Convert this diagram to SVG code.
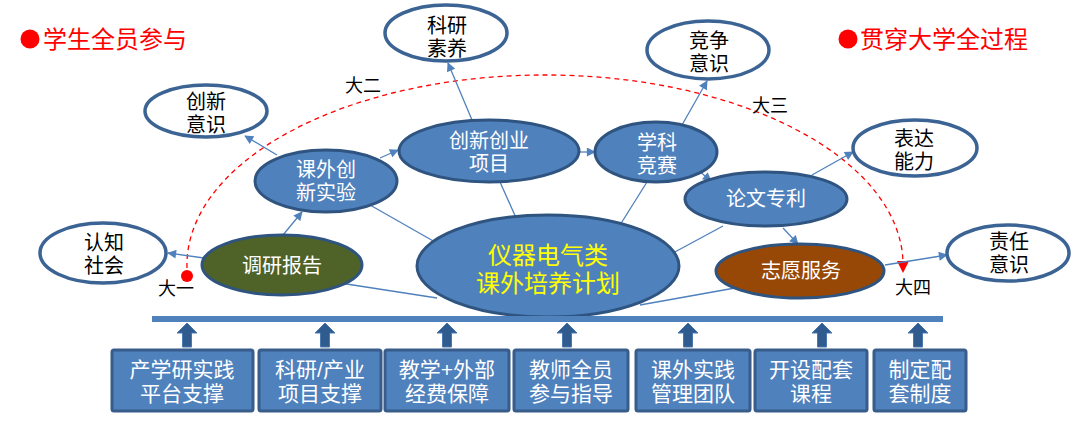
<svg xmlns="http://www.w3.org/2000/svg" width="1080" height="425" viewBox="0 0 1080 425">
<style>
text{font-family:"Liberation Sans","Noto Sans CJK SC",sans-serif;text-anchor:middle}
.out{fill:#fff;stroke:#3b6394;stroke-width:3.5}
.act{fill:#4f81bd;stroke:#2f5480;stroke-width:3}
.tb{font-size:20px;fill:#000}
.tw{font-size:20px;fill:#fff}
.ty{font-size:24px;fill:#ffff00}
.box{fill:#4f81bd;stroke:#385d8a;stroke-width:3}
.tbox{font-size:21px;fill:#fff}
.red{font-size:24px;fill:#ff0000;text-anchor:start}
.yr{font-size:18px;fill:#000;text-anchor:start}
.ln{stroke:#4f81bd;stroke-width:1.3;fill:none}
.blk{fill:#2f5b8f;stroke:#4a78b0;stroke-width:1}
</style>
<defs>
<marker id="ah" viewBox="0 0 10 10" refX="9" refY="5" markerWidth="10" markerHeight="9" markerUnits="userSpaceOnUse" orient="auto">
<path d="M0,0 L10,5 L0,10 z" fill="#4f81bd"/>
</marker>
</defs>
<rect width="1080" height="425" fill="#fff"/>

<g id="titles">
<circle cx="30" cy="39" r="9.5" fill="#ff0000"/>
<text class="red" x="43" y="48">学生全员参与</text>
<circle cx="848" cy="39" r="9.5" fill="#ff0000"/>
<text class="red" x="860" y="48">贯穿大学全过程</text>
</g>

<g id="timeline">
<path d="M187,268 A358,190 0 0 1 903,262" fill="none" stroke="#ff0000" stroke-width="1.3" stroke-dasharray="5,4"/>
<polygon points="897,261 909,261 903,273" fill="#ff0000"/>
<circle cx="187" cy="276" r="6" fill="#ff0000"/>
<text class="yr" x="158" y="295">大一</text>
<text class="yr" x="345" y="92">大二</text>
<text class="yr" x="752" y="112">大三</text>
<text class="yr" x="895" y="294">大四</text>
</g>

<g id="connectors">
<line class="ln" x1="370" y1="205" x2="435" y2="242"/>
<line class="ln" x1="500" y1="182" x2="517" y2="220"/>
<line class="ln" x1="647" y1="182" x2="620" y2="225"/>
<line class="ln" x1="673" y1="253" x2="723" y2="226"/>
<line class="ln" x1="340" y1="283" x2="437" y2="298"/>
<line class="ln" x1="640" y1="305" x2="735" y2="288"/>
<line class="ln" x1="204" y1="258" x2="168" y2="253" marker-end="url(#ah)"/>
<line class="ln" x1="283" y1="235" x2="302" y2="212" marker-end="url(#ah)"/>
<line class="ln" x1="277" y1="155" x2="245" y2="136" marker-end="url(#ah)"/>
<line class="ln" x1="380" y1="158" x2="398" y2="150" marker-end="url(#ah)"/>
<line class="ln" x1="472" y1="120" x2="448" y2="63" marker-end="url(#ah)"/>
<line class="ln" x1="578" y1="152" x2="595" y2="152" marker-end="url(#ah)"/>
<line class="ln" x1="682" y1="125" x2="707" y2="81" marker-end="url(#ah)"/>
<line class="ln" x1="699" y1="171" x2="711" y2="181" marker-end="url(#ah)"/>
<line class="ln" x1="812" y1="175" x2="853" y2="152" marker-end="url(#ah)"/>
<line class="ln" x1="783" y1="228" x2="798" y2="244" marker-end="url(#ah)"/>
<line class="ln" x1="885" y1="265" x2="947" y2="255" marker-end="url(#ah)"/>
</g>

<g id="n-chuangxinyishi"><ellipse class="out" cx="206" cy="111" rx="61" ry="26"/><text class="tb" x="206" y="109">创新<tspan x="206" dy="23">意识</tspan></text></g>
<g id="n-keyansuyang"><ellipse class="out" cx="446" cy="33" rx="61" ry="28"/><text class="tb" x="447" y="33">科研<tspan x="447" dy="23">素养</tspan></text></g>
<g id="n-jingzhengyishi"><ellipse class="out" cx="708" cy="50" rx="61" ry="29"/><text class="tb" x="709" y="48">竞争<tspan x="709" dy="23">意识</tspan></text></g>
<g id="n-biaodanengli"><ellipse class="out" cx="915" cy="148" rx="62" ry="28"/><text class="tb" x="914" y="146">表达<tspan x="914" dy="23">能力</tspan></text></g>
<g id="n-renzhishehui"><ellipse class="out" cx="103" cy="253" rx="63" ry="30"/><text class="tb" x="104" y="250">认知<tspan x="104" dy="23">社会</tspan></text></g>
<g id="n-zerenyishi"><ellipse class="out" cx="1008" cy="253" rx="61" ry="28"/><text class="tb" x="1009" y="249">责任<tspan x="1009" dy="23">意识</tspan></text></g>

<g id="n-kewaichuangxin"><ellipse class="act" cx="326" cy="181" rx="71" ry="31"/><text class="tw" x="326" y="177">课外创<tspan x="326" dy="23">新实验</tspan></text></g>
<g id="n-chuangxinchuangye"><ellipse class="act" cx="489" cy="151" rx="90" ry="31"/><text class="tw" x="489" y="148">创新创业<tspan x="489" dy="23">项目</tspan></text></g>
<g id="n-xuekejingsai"><ellipse class="act" cx="656" cy="152" rx="61" ry="30"/><text class="tw" x="657" y="150">学科<tspan x="657" dy="23">竞赛</tspan></text></g>
<g id="n-lunwenzhuanli"><ellipse class="act" cx="766" cy="199" rx="81" ry="27"/><text class="tw" x="766" y="206">论文专利</text></g>
<g id="n-diaoyanbaogao"><ellipse class="act" cx="282" cy="265" rx="80" ry="30" style="fill:#4f6228"/><text class="tw" x="282" y="273">调研报告</text></g>
<g id="n-zhiyuanfuwu"><ellipse class="act" cx="800" cy="271" rx="84" ry="27" style="fill:#974806"/><text class="tw" x="801" y="278">志愿服务</text></g>
<g id="n-center"><ellipse class="act" cx="548" cy="266" rx="131" ry="51"/><text class="ty" x="548" y="264">仪器电气类<tspan x="548" dy="28">课外培养计划</tspan></text></g>

<g id="base">
<rect x="152" y="316" width="791" height="6" fill="#4f81bd"/>
</g>

<g id="supports">
<polygon class="blk" points="187,323 197,333 191.5,333 191.5,347 182.5,347 182.5,333 177,333"/>
<polygon class="blk" points="325,323 335,333 329.5,333 329.5,347 320.5,347 320.5,333 315,333"/>
<polygon class="blk" points="447,323 457,333 451.5,333 451.5,347 442.5,347 442.5,333 437,333"/>
<polygon class="blk" points="567,323 577,333 571.5,333 571.5,347 562.5,347 562.5,333 557,333"/>
<polygon class="blk" points="688,323 698,333 692.5,333 692.5,347 683.5,347 683.5,333 678,333"/>
<polygon class="blk" points="822,323 832,333 826.5,333 826.5,347 817.5,347 817.5,333 812,333"/>
<polygon class="blk" points="918,323 928,333 922.5,333 922.5,347 913.5,347 913.5,333 908,333"/>
</g>

<g id="b1"><rect class="box" x="112" y="350" width="141" height="61" rx="2"/><text class="tbox" x="182" y="377">产学研实践<tspan x="182" dy="24">平台支撑</tspan></text></g>
<g id="b2"><rect class="box" x="259" y="350" width="122" height="61" rx="2"/><text class="tbox" x="320" y="377">科研/产业<tspan x="320" dy="24">项目支撑</tspan></text></g>
<g id="b3"><rect class="box" x="385" y="350" width="124" height="61" rx="2"/><text class="tbox" x="447" y="377">教学+外部<tspan x="447" dy="24">经费保障</tspan></text></g>
<g id="b4"><rect class="box" x="514" y="350" width="114" height="61" rx="2"/><text class="tbox" x="571" y="377">教师全员<tspan x="571" dy="24">参与指导</tspan></text></g>
<g id="b5"><rect class="box" x="636" y="350" width="114" height="61" rx="2"/><text class="tbox" x="693" y="377">课外实践<tspan x="693" dy="24">管理团队</tspan></text></g>
<g id="b6"><rect class="box" x="755" y="350" width="112" height="61" rx="2"/><text class="tbox" x="811" y="377">开设配套<tspan x="811" dy="24">课程</tspan></text></g>
<g id="b7"><rect class="box" x="874" y="350" width="92" height="61" rx="2"/><text class="tbox" x="920" y="377">制定配<tspan x="920" dy="24">套制度</tspan></text></g>
</svg>
